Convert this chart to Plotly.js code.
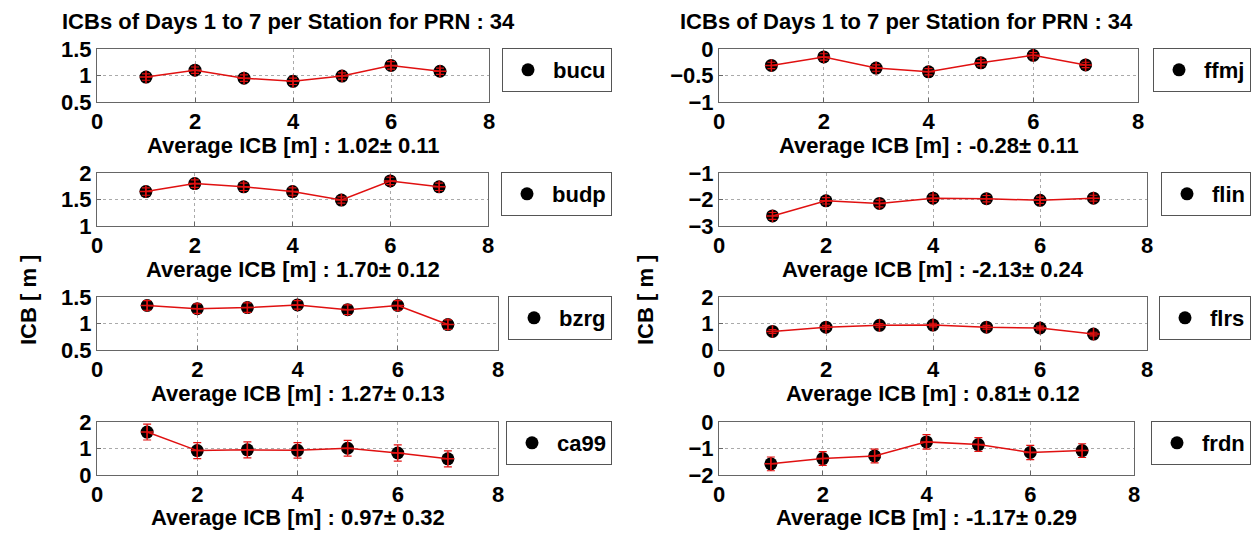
<!DOCTYPE html>
<html>
<head>
<meta charset="utf-8">
<script src="https://cdn.plot.ly/plotly-3.0.1.min.js"></script>
<style>html,body{margin:0;padding:0;background:#fff;}#chart{width:1257px;height:537px;}</style>
</head>
<body>
<div id="chart"></div>
<script>
// ---- data ----
const days = [1, 2, 3, 4, 5, 6, 7];
const stations = ['bucu', 'budp', 'bzrg', 'ca99', 'ffmj', 'flin', 'flrs', 'frdn'];
const bucu = [0.97, 1.10, 0.95, 0.89, 0.99, 1.19, 1.08];
const bucuErr = [0.06, 0.06, 0.06, 0.06, 0.06, 0.07, 0.06];
const budp = [1.65, 1.80, 1.74, 1.65, 1.49, 1.85, 1.74];
const budpErr = [0.07, 0.07, 0.07, 0.07, 0.06, 0.07, 0.07];
const bzrg = [1.34, 1.28, 1.30, 1.35, 1.26, 1.34, 0.98];
const bzrgErr = [0.09, 0.09, 0.09, 0.08, 0.09, 0.09, 0.09];
const ca99 = [1.62, 0.92, 0.95, 0.93, 1.01, 0.83, 0.61];
const ca99Err = [0.30, 0.30, 0.30, 0.29, 0.30, 0.31, 0.30];
const ffmj = [-0.31, -0.15, -0.36, -0.43, -0.26, -0.12, -0.30];
const ffmjErr = [0.06, 0.06, 0.06, 0.06, 0.06, 0.05, 0.05];
const flin = [-2.62, -2.05, -2.15, -1.95, -1.97, -2.03, -1.95];
const flinErr = [0.13, 0.12, 0.13, 0.12, 0.12, 0.12, 0.11];
const flrs = [0.70, 0.86, 0.93, 0.94, 0.86, 0.83, 0.60];
const flrsErr = [0.07, 0.07, 0.07, 0.07, 0.07, 0.07, 0.07];
const frdn = [-1.58, -1.38, -1.28, -0.75, -0.85, -1.15, -1.08];
const frdnErr = [0.26, 0.26, 0.26, 0.27, 0.26, 0.27, 0.26];
const avgLabels = ['Average ICB [m] : 1.02± 0.11', 'Average ICB [m] : 1.70± 0.12',
  'Average ICB [m] : 1.27± 0.13', 'Average ICB [m] : 0.97± 0.32',
  'Average ICB [m] : -0.28± 0.11', 'Average ICB [m] : -2.13± 0.24',
  'Average ICB [m] : 0.81± 0.12', 'Average ICB [m] : -1.17± 0.29'];
const yRanges = [[0.5, 1.5], [1, 2], [0.5, 1.5], [0, 2], [-1, 0], [-3, -1], [0, 2], [-2, 0]];
const yDticks = [0.5, 0.5, 0.5, 1, 0.5, 1, 1, 1];
const xTicks = [0, 2, 4, 6, 8];
const titleText = 'ICBs of Days 1 to 7 per Station for PRN : 34';
const yTitleText = 'ICB [ m ]';

const values = [bucu, budp, bzrg, ca99, ffmj, flin, flrs, frdn];
const errors = [bucuErr, budpErr, bzrgErr, ca99Err, ffmjErr, flinErr, flrsErr, frdnErr];

// ---- layout geometry (pixels) ----
const W = 1257, H = 537;
const FONT = 'Liberation Sans, Arial, Helvetica, sans-serif';
const rowTop = [49, 173, 297, 422];
const boxH = 53;
const colLeft = [97, 719];
const colRight = [[489, 488, 498, 498], [1138, 1147, 1147, 1134]];
const legRight = [612, 1251];
const legTopOff = -1;
const xlabY = [145, 269, 393, 517];

const px = v => v / W;
const py = v => 1 - v / H;

const traces = [];
const layout = {
  width: W, height: H,
  margin: {l: 0, r: 0, t: 0, b: 0},
  paper_bgcolor: '#fff', plot_bgcolor: '#fff',
  font: {family: FONT, color: '#000'},
  showlegend: true,
  annotations: [],
};

for (let i = 0; i < 8; i++) {
  const col = i < 4 ? 0 : 1;
  const row = i % 4;
  const n = i + 1;
  const xa = n === 1 ? 'x' : 'x' + n;
  const ya = n === 1 ? 'y' : 'y' + n;
  const lg = n === 1 ? 'legend' : 'legend' + n;

  traces.push({
    x: days, y: values[i], xaxis: xa, yaxis: ya, type: 'scatter', mode: 'markers',
    name: stations[i], legend: lg, showlegend: true,
    marker: {color: '#000', size: 13, symbol: 'circle'},
    hoverinfo: 'skip'
  });
  traces.push({
    x: days, y: values[i], xaxis: xa, yaxis: ya, type: 'scatter', mode: 'lines+markers',
    showlegend: false, legend: lg,
    line: {color: '#e01010', width: 1.5},
    marker: {color: '#e01010', size: 9, symbol: 'cross-thin', line: {color: '#e01010', width: 1.5}},
    error_y: {type: 'data', array: errors[i], visible: true, color: '#e01010', thickness: 1.2, width: 4},
    hoverinfo: 'skip'
  });

  const axisBase = {
    showline: true, mirror: true, linecolor: '#666', linewidth: 1,
    showgrid: true, griddash: 'dot', gridcolor: '#aaa', gridwidth: 1,
    zeroline: false, ticks: 'inside', ticklen: 4, tickcolor: '#666',
    tickfont: {family: FONT, size: 22, color: '#000', weight: 'bold'},
    fixedrange: true
  };
  layout['xaxis' + (n === 1 ? '' : n)] = Object.assign({}, axisBase, {
    domain: [px(colLeft[col]), px(colRight[col][row])],
    range: [0, 8], tickvals: xTicks, ticktext: xTicks.map(String),
    anchor: ya
  });
  layout['yaxis' + (n === 1 ? '' : n)] = Object.assign({}, axisBase, {
    domain: [py(rowTop[row] + boxH), py(rowTop[row])],
    range: yRanges[i], dtick: yDticks[i], tick0: yRanges[i][0],
    anchor: xa
  });
  layout[lg] = {
    x: px(legRight[col]), y: py(rowTop[row] + legTopOff), xanchor: 'right', yanchor: 'top',
    xref: 'paper', yref: 'paper',
    bordercolor: '#555', borderwidth: 1, bgcolor: '#fff',
    font: {family: FONT, size: 22, color: '#000', weight: 'bold'},
    itemwidth: 40
  };
  layout.annotations.push({
    text: avgLabels[i], xref: 'paper', yref: 'paper',
    x: px((colLeft[col] + colRight[col][row]) / 2), y: py(xlabY[row]),
    xanchor: 'center', yanchor: 'middle', showarrow: false,
    font: {family: FONT, size: 22, color: '#000', weight: 'bold'}
  });
}

// column titles and y-axis labels
[60, 678].forEach(x => layout.annotations.push({
  text: titleText, xref: 'paper', yref: 'paper', x: px(x), y: py(21),
  xanchor: 'left', yanchor: 'middle', showarrow: false,
  font: {family: FONT, size: 22, color: '#000', weight: 'bold'}
}));
[28, 645].forEach(x => layout.annotations.push({
  text: yTitleText, xref: 'paper', yref: 'paper', x: px(x), y: py(300),
  xanchor: 'center', yanchor: 'middle', showarrow: false, textangle: -90,
  font: {family: FONT, size: 22, color: '#000', weight: 'bold'}
}));

Plotly.newPlot('chart', traces, layout, {staticPlot: true, displayModeBar: false});
</script>
</body>
</html>
